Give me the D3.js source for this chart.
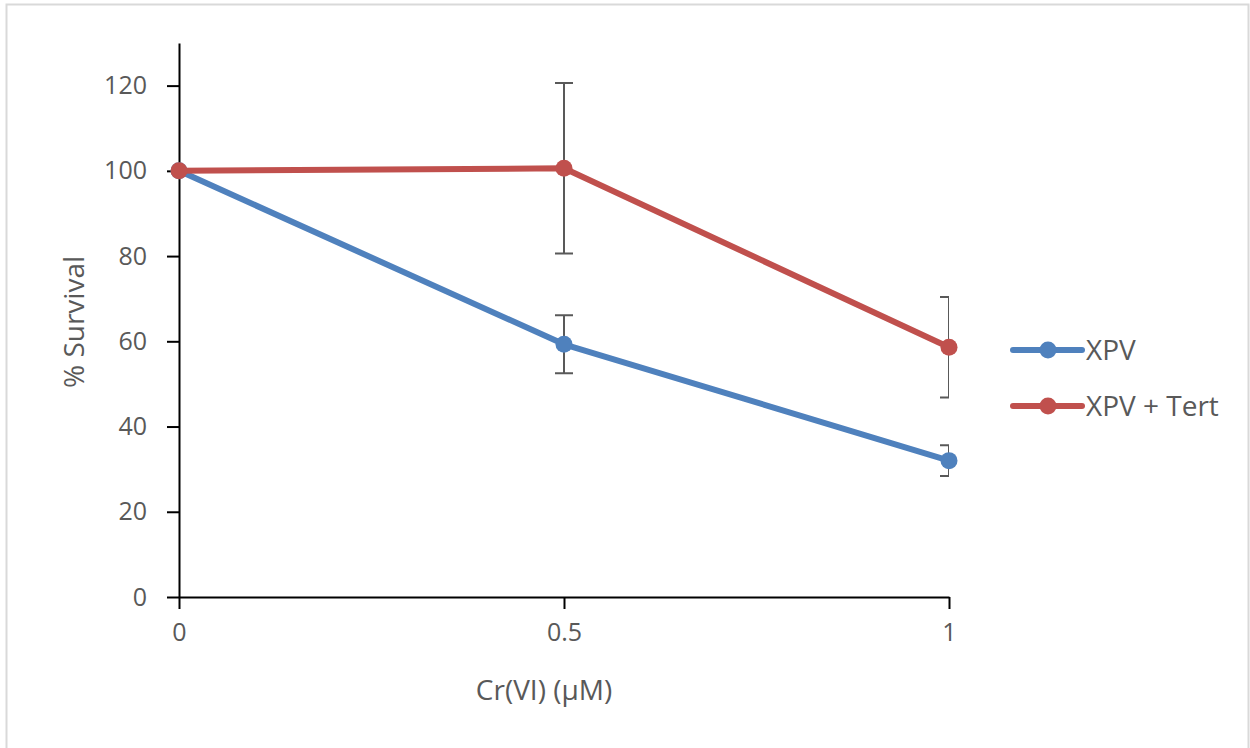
<!DOCTYPE html>
<meta charset="utf-8">
<style>
body { margin: 0; background: #fff; }
text { font-family: "Open Sans", sans-serif; fill: #595959; }
.axis path, .axis line { stroke: #000; stroke-width: 2px; }
.line { fill: none; stroke-width: 6px; stroke-linejoin: round; stroke-linecap: round; }
.err { stroke: #595959; stroke-width: 2px; fill: none; }
</style>
<svg width="1250" height="748"></svg>
<script src="https://d3js.org/d3.v7.min.js"></script>
<script>
// data
var doses = [0, 0.5, 1];
var xpv = [100, 59.3, 32.0];
var xpvErr = [0, 6.8, 3.6];
var xpvTert = [100, 100.6, 58.6];
var xpvTertErr = [0, 20.0, 11.8];
var seriesNames = ["XPV", "XPV + Tert"];
var seriesColors = ["#4f81bd", "#c0504d"];
var yTicks = [0, 20, 40, 60, 80, 100, 120];
var xTicks = [0, 0.5, 1];

var svg = d3.select("svg"),
    margin = {top: 43, left: 179},
    width = 949 - 179,
    height = 597 - 43;

// chart frame
svg.append("rect")
    .attr("x", 6.5).attr("y", 4.5)
    .attr("width", 1242).attr("height", 760)
    .attr("fill", "#fff").attr("stroke", "#d9d9d9").attr("stroke-width", 2);

var g = svg.append("g").attr("transform", "translate(" + margin.left + "," + margin.top + ")");

var x = d3.scaleLinear().domain([0, 1]).range([0, width]),
    y = d3.scaleLinear().domain([0, 130]).range([height, 0]);

svg.append("defs").append("clipPath").attr("id", "plotclip")
  .append("rect").attr("x", -20).attr("y", -5).attr("width", width + 20).attr("height", height + 10);

g.append("g")
    .attr("class", "axis axis--x")
    .attr("transform", "translate(0," + height + ")")
    .call(d3.axisBottom(x).tickValues(xTicks).tickSize(12).tickSizeOuter(0).tickPadding(14)
      .tickFormat(function(d) { return d; }))
    .call(function(a) { a.selectAll("text").style("font-size", "25px").attr("fill", "#595959").attr("font-family", null); });

g.append("g")
    .attr("class", "axis axis--y")
    .call(d3.axisLeft(y).tickValues(yTicks).tickSize(12).tickSizeOuter(0).tickPadding(20))
    .call(function(a) { a.selectAll("text").style("font-size", "25px").attr("fill", "#595959").attr("font-family", null); });

var series = [
  {name: seriesNames[0], color: seriesColors[0], values: xpv, err: xpvErr},
  {name: seriesNames[1], color: seriesColors[1], values: xpvTert, err: xpvTertErr}
];

var line = d3.line()
    .x(function(d) { return x(d.dose); })
    .y(function(d) { return y(d.v); });

var s = g.selectAll(".series")
  .data(series)
  .enter().append("g")
    .attr("class", "series");

// error bars (clipped to the plot area like the original)
s.each(function(d) {
  var eg = d3.select(this).append("g").attr("clip-path", "url(#plotclip)");
  doses.forEach(function(dose, i) {
    if (!d.err[i]) return;
    var cx = x(dose), hi = y(d.values[i] + d.err[i]), lo = y(d.values[i] - d.err[i]);
    eg.append("path").attr("class", "err")
      .attr("d", "M" + cx + "," + hi + "V" + lo +
                 "M" + (cx - 9) + "," + hi + "H" + (cx + 9) +
                 "M" + (cx - 9) + "," + lo + "H" + (cx + 9));
  });
});

s.append("path")
    .attr("class", "line")
    .attr("stroke", function(d) { return d.color; })
    .attr("d", function(d) { return line(d.values.map(function(v, i) { return {dose: doses[i], v: v}; })); });

s.selectAll("circle")
  .data(function(d) { return d.values.map(function(v, i) { return {dose: doses[i], v: v, color: d.color}; }); })
  .enter().append("circle")
    .attr("cx", function(d) { return x(d.dose); })
    .attr("cy", function(d) { return y(d.v); })
    .attr("r", 8.5)
    .attr("fill", function(d) { return d.color; });

// axis titles
svg.append("text")
    .attr("transform", "translate(84,322) rotate(-90)")
    .attr("text-anchor", "middle")
    .style("font-size", "28px")
    .text("% Survival");

svg.append("text")
    .attr("x", x(0.5) + margin.left - 20)
    .attr("y", 700)
    .attr("text-anchor", "middle")
    .style("font-size", "28px")
    .text("Cr(VI) (\u03bcM)");

// legend
var legend = svg.selectAll(".legend")
  .data(series)
  .enter().append("g")
    .attr("class", "legend")
    .attr("transform", function(d, i) { return "translate(1010," + (350 + i * 56) + ")"; });

legend.append("line")
    .attr("x1", 3).attr("x2", 72)
    .attr("stroke", function(d) { return d.color; })
    .attr("stroke-width", 6).attr("stroke-linecap", "round");
legend.append("circle")
    .attr("cx", 38).attr("r", 8.5)
    .attr("fill", function(d) { return d.color; });
legend.append("text")
    .attr("x", 76).attr("dy", "0.35em")
    .style("font-size", "28px")
    .text(function(d) { return d.name; });
</script>
